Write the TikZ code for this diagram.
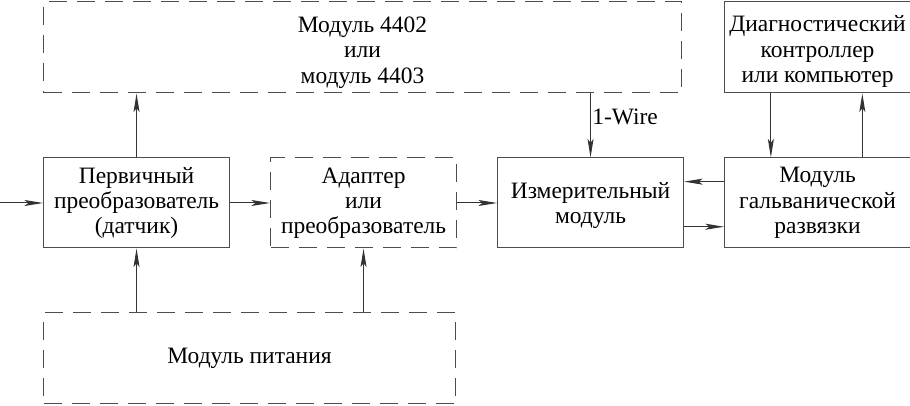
\documentclass[tikz,border=0pt]{standalone}
\usepackage{fontspec}
\setmainfont{Liberation Serif}
\usetikzlibrary{positioning,arrows.meta}
\newcommand{\nizhe}[2]{\raisebox{-#1}[\height][\depth]{\begin{tabular}{@{}c@{}}#2\end{tabular}}}
\begin{document}
\begin{tikzpicture}[x=1pt,y=1pt,
    node distance=30pt,
    blok/.style = {draw=black!70, line width=0.75pt, minimum width=139.5pt, minimum height=67.5pt,
                   align=center, inner sep=2pt, font=\fontsize{17.6pt}{18.9pt}\selectfont},
    shtrih/.style = {blok, dash pattern=on 13.5pt off 7.5pt},
    strel/.style = {draw=black!80, line width=0.75pt, -{Stealth[length=14pt,width=4.5pt,inset=3pt]}}]
    \useasboundingbox (0,0) rectangle (682.5,304.5);
    \node[blok] (perv) at (102.4,152.25) {Первичный\\преобразователь\\(датчик)};
    \node[shtrih] (adapt) [right=of perv] {Адаптер\\или\\преобразователь};
    \node[blok] (izm) [right=of adapt] {\nizhe{2.5pt}{Измерительный\\модуль}};
    \node[blok] (galv) [right=of izm] {Модуль\\гальванической\\развязки};
    \node[shtrih, minimum width=478.5pt, minimum height=68.25pt, anchor=south west] (mod)
        [above right=48pt and 0pt of perv.north west] {\nizhe{4pt}{Модуль 4402\\или\\модуль 4403}};
    \node[blok, minimum height=68.25pt] (diag) [above=48pt of galv] {\nizhe{3.5pt}{Диагностический\\контроллер\\или компьютер}};
    \node[shtrih, minimum width=309pt, minimum height=68.25pt, anchor=north west] (pit)
        [below right=48pt and 0pt of perv.south west] {Модуль питания};
    \coordinate (vhod) at (0,152.25);
      %
    \draw[strel] (vhod) -- (perv);
    \draw[strel] (perv) -- (adapt);
    \draw[strel] (adapt) -- (izm);
    \draw[strel] (perv.north) -- (perv.north |- mod.south);
    \draw[strel] (mod.south -| izm.north) -- node[right, pos=0.36, inner sep=1pt, font=\fontsize{17.6pt}{18.9pt}\selectfont] {1-Wire} (izm.north);
    \draw[strel] ([yshift=16pt]galv.west) -- ([yshift=16pt]izm.east);
    \draw[strel] ([yshift=-17.8pt]izm.east) -- ([yshift=-17.8pt]galv.west);
    \draw[strel] ([xshift=-35pt]diag.south) -- ([xshift=-35pt]galv.north);
    \draw[strel] ([xshift=33.6pt]galv.north) -- ([xshift=33.6pt]diag.south);
    \draw[strel] (pit.north -| perv.south) -- (perv.south);
    \draw[strel] (pit.north -| adapt.south) -- (adapt.south);
  \end{tikzpicture}
\end{document}
